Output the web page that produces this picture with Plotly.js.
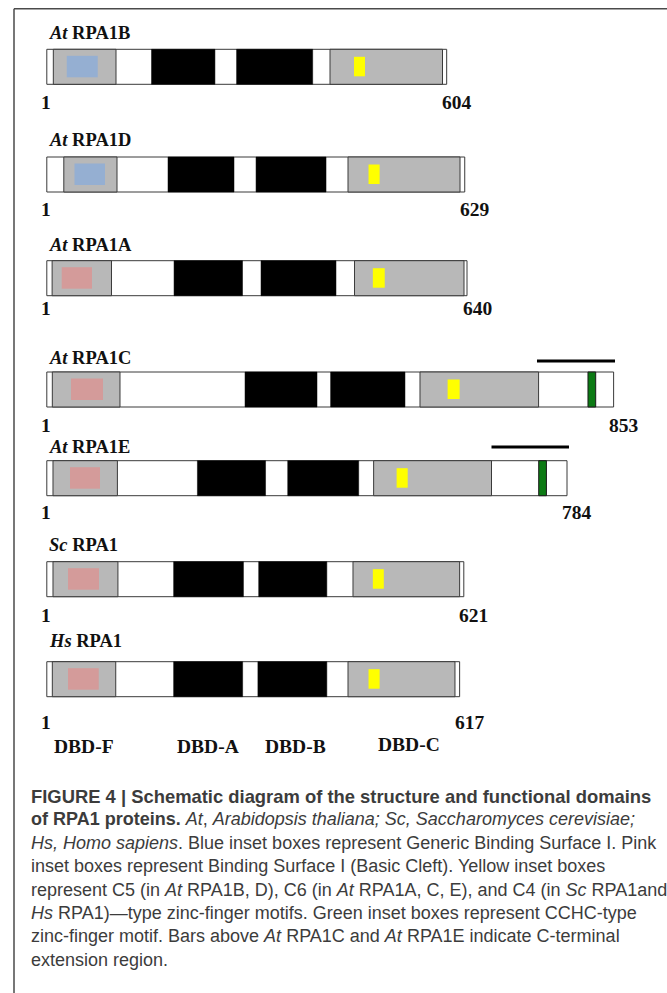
<!DOCTYPE html>
<html>
<head>
<meta charset="utf-8">
<script src="https://cdn.plot.ly/plotly-3.0.1.min.js"></script>
<style>
html,body{margin:0;padding:0;background:#fff;}
#chart{width:667px;height:993px;}
</style>
</head>
<body>
<div id="chart"></div>
<script>
// ---------- DATA (residue positions read from the schematic) ----------
const species   = ['At','At','At','At','At','Sc','Hs'];
const proteins  = ['RPA1B','RPA1D','RPA1A','RPA1C','RPA1E','RPA1','RPA1'];
const lengths   = [604, 629, 640, 853, 784, 621, 617];
const barEnd    = [602.2, 629.4, 632.8, 853.6, 783.4, 628.0, 621.7];
const fStart    = [9.8, 25.6, 8.0, 8.3, 9.3, 9.3, 8.3];
const fEnd      = [104.2, 105.7, 97.4, 110.2, 106.3, 107.1, 103.8];
const aStart    = [157.7, 182.5, 191.6, 298.5, 226.8, 191.0, 191.0];
const aEnd      = [253.2, 281.9, 294.7, 406.9, 329.4, 296.1, 294.9];
const bStart    = [285.8, 315.1, 322.6, 427.4, 362.8, 319.1, 317.9];
const bEnd      = [400.4, 420.5, 435.5, 539.4, 469.7, 421.7, 421.7];
const cStart    = [426.5, 453.6, 463.4, 562.0, 492.2, 461.1, 453.6];
const cEnd      = [595.9, 622.3, 628.3, 740.6, 669.7, 621.7, 614.7];
const surfType  = ['generic','generic','basic','basic','basic','basic','basic'];
const surfStart = [30.0, 41.7, 22.4, 36.4, 34.9, 31.9, 31.9];
const surfEnd   = [76.7, 87.6, 68.1, 84.6, 80.1, 78.6, 78.2];
const znStart   = [462.6, 484.5, 491.0, 603.6, 526.8, 491.0, 484.5];
const znEnd     = [479.2, 501.2, 508.9, 621.7, 543.5, 507.5, 501.2];
const cchcStart = [null, null, null, 815.0, 740.8, null, null];
const cchcEnd   = [null, null, null, 826.6, 752.4, null, null];
const extStart  = [null, null, null, 738.2, 669.7, null, null];
const extEnd    = [null, null, null, 855.7, 786.4, null, null];
const domainLabels = ['DBD-F','DBD-A','DBD-B','DBD-C'];
const captionLines = [
  '<b>FIGURE 4 | Schematic diagram of the structure and functional domains</b>',
  '<b>of RPA1 proteins.</b> <i>At</i>, <i>Arabidopsis thaliana; Sc, Saccharomyces cerevisiae;</i>',
  '<i>Hs, Homo sapiens</i>. Blue inset boxes represent Generic Binding Surface I. Pink',
  'inset boxes represent Binding Surface I (Basic Cleft). Yellow inset boxes',
  'represent C5 (in <i>At</i> RPA1B, D), C6 (in <i>At</i> RPA1A, C, E), and C4 (in <i>Sc</i> RPA1and',
  '<i>Hs</i> RPA1)\u2014type zinc-finger motifs. Green inset boxes represent CCHC-type',
  'zinc-finger motif. Bars above <i>At</i> RPA1C and <i>At</i> RPA1E indicate C-terminal',
  'extension region.'
];

// ---------- LAYOUT (positions / styles) ----------
const W = 667, H = 993;
const X_RANGE = [-70.5, 934];        // residue axis mapped across the canvas
const ROW_TOP = [49.3, 157, 260.7, 372, 460.7, 561.7, 661.7];
const BAR_H = 35;
const TITLE_Y = [33, 140, 245, 357.5, 447, 545, 641];
const NUM_Y = [102, 209, 308, 425, 512, 615, 722];
const EXT_Y = [null, null, null, 361, 447, null, null];
const DBD_Y = [746, 746, 746, 744];
const DBD_SHIFT = [0, 0, 3, 8];
const CAP_X = 29, CAP_Y0 = 796, CAP_DY = 23.4;
const CAP_SIZE = [18.4, 18, 18, 18, 18, 18, 18, 18];
const COL = {
  outline:'#3a3a3a', gray:'#b8b8b8', black:'#000000',
  generic:'#95afd2', basic:'#d49b9a', zinc:'#ffff00', cchc:'#0c7a14', frame:'#4a4a4a'
};
const serif = 'Liberation Serif, Times New Roman, serif';
const sans = 'Liberation Sans, Arial, sans-serif';

const shapes = [];
const annotations = [];

function rect(x0, x1, y0, y1, fill, lineColor, lineWidth) {
  shapes.push({type:'rect', xref:'x', yref:'y', x0:x0, x1:x1, y0:y0, y1:y1,
    fillcolor:fill, line:{color:lineColor, width:lineWidth}});
}

for (let i = 0; i < proteins.length; i++) {
  const t = ROW_TOP[i], b = t + BAR_H;
  rect(0, barEnd[i], t, b, '#ffffff', COL.outline, 1);
  rect(fStart[i], fEnd[i], t, b, COL.gray, COL.outline, 1);
  rect(aStart[i], aEnd[i], t, b, COL.black, COL.black, 0.5);
  rect(bStart[i], bEnd[i], t, b, COL.black, COL.black, 0.5);
  rect(cStart[i], cEnd[i], t, b, COL.gray, COL.outline, 1);
  rect(surfStart[i], surfEnd[i], t + 6.5, t + 28, COL[surfType[i]], 'rgba(0,0,0,0)', 0);
  rect(znStart[i], znEnd[i], t + 7.5, t + 27, COL.zinc, 'rgba(0,0,0,0)', 0);
  if (cchcStart[i] !== null) {
    rect(cchcStart[i], cchcEnd[i], t, b, COL.cchc, '#1a1a1a', 1);
  }
  if (extStart[i] !== null) {
    shapes.push({type:'line', xref:'x', yref:'y', x0:extStart[i], x1:extEnd[i],
      y0:EXT_Y[i], y1:EXT_Y[i], line:{color:'#000', width:3}});
  }
  // title
  annotations.push({xref:'x', yref:'y', x:0, y:TITLE_Y[i], xanchor:'left', yanchor:'middle',
    text:'<b><i>' + species[i] + '</i> ' + proteins[i] + '</b>', showarrow:false,
    font:{family:serif, size:18.5, color:'#111'}});
  // start / end residue numbers
  annotations.push({xref:'x', yref:'y', x:0, y:NUM_Y[i], xanchor:'center', yanchor:'middle',
    xshift:-1, text:'<b>1</b>', showarrow:false, font:{family:serif, size:19.5, color:'#111'}});
  annotations.push({xref:'x', yref:'y', x:barEnd[i], y:NUM_Y[i], xanchor:'center', yanchor:'middle',
    xshift:10, text:'<b>' + lengths[i] + '</b>', showarrow:false, font:{family:serif, size:19.5, color:'#111'}});
}

// domain labels under the last protein (centred on its domains)
const last = proteins.length - 1;
const dMid = [(fStart[last]+fEnd[last])/2, (aStart[last]+aEnd[last])/2,
              (bStart[last]+bEnd[last])/2, (cStart[last]+cEnd[last])/2];
domainLabels.forEach((lab, k) => {
  annotations.push({xref:'x', yref:'y', x:dMid[k], y:DBD_Y[k], xanchor:'center', yanchor:'middle',
    xshift:DBD_SHIFT[k], text:'<b>' + lab + '</b>', showarrow:false,
    font:{family:serif, size:19.5, color:'#111'}});
});

// caption
captionLines.forEach((ln, k) => {
  annotations.push({xref:'paper', yref:'y', x:CAP_X / W, y:CAP_Y0 + k * CAP_DY,
    xanchor:'left', yanchor:'middle', text:ln, showarrow:false, align:'left',
    font:{family:sans, size:CAP_SIZE[k], color:'#3c3c3c'}});
});

// frame (top and left rules)
shapes.push({type:'line', xref:'paper', yref:'paper', x0:14/W, x1:1, y0:1 - 8.7/H, y1:1 - 8.7/H,
  line:{color:COL.frame, width:1.5}});
shapes.push({type:'line', xref:'paper', yref:'paper', x0:14/W, x1:14/W, y0:1 - 8.7/H, y1:0,
  line:{color:COL.frame, width:1.5}});

const layout = {
  width:W, height:H, margin:{l:0, r:0, t:0, b:0},
  paper_bgcolor:'#ffffff', plot_bgcolor:'#ffffff',
  showlegend:false,
  xaxis:{range:X_RANGE, visible:false, fixedrange:true},
  yaxis:{range:[H, 0], visible:false, fixedrange:true},
  shapes:shapes, annotations:annotations
};

Plotly.newPlot('chart', [{type:'scatter', x:[], y:[], hoverinfo:'skip'}], layout,
  {staticPlot:true, displayModeBar:false});
</script>
</body>
</html>
